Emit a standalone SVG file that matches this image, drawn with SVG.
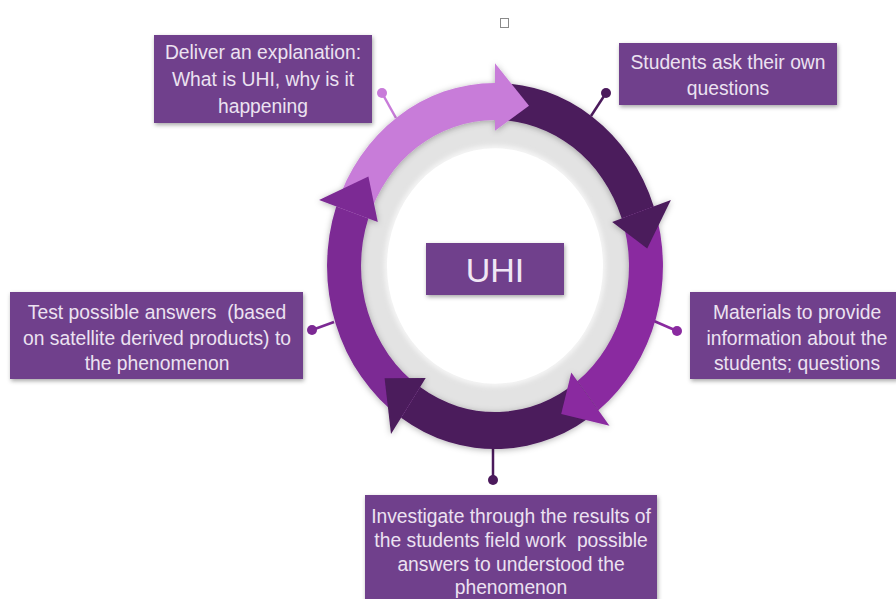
<svg xmlns="http://www.w3.org/2000/svg" width="896" height="599" viewBox="0 0 896 599">
<defs>
<style>
.box{fill:#6f3f8c;filter:url(#sh)}
.t{font-family:"Liberation Sans",Arial,sans-serif;font-size:19.3px;fill:#ece2f1;text-anchor:middle;white-space:pre}
.pin{stroke-width:2.5;fill:none}
.pink{fill:#c87bd9}
.dark{fill:#4b1a5c}
.mid{fill:#8a2aa0}
.mid2{fill:#7c2994}
</style>
<filter id="sh" x="-10%" y="-10%" width="120%" height="130%"><feDropShadow dx="1" dy="2" stdDeviation="2" flood-color="#000" flood-opacity="0.35"/></filter>
<filter id="rsh" x="-20%" y="-20%" width="140%" height="140%"><feDropShadow dx="0" dy="1" stdDeviation="3" flood-color="#000" flood-opacity="0.3"/></filter>
<filter id="isf" x="-20%" y="-20%" width="140%" height="140%"><feGaussianBlur stdDeviation="2"/></filter>
</defs>
<rect width="896" height="599" fill="#fff"/>
<rect x="500.5" y="18.5" width="8" height="9" fill="none" stroke="#8a8a8a" stroke-width="1"/>

<g id="connectors" class="pin">
<line x1="382" y1="93" x2="396" y2="118" stroke="#c87bd9"/>
<circle cx="382" cy="93" r="5" fill="#c87bd9"/>
<line x1="606" y1="93" x2="591" y2="116" stroke="#4b1a5c"/>
<circle cx="606" cy="93" r="5" fill="#4b1a5c"/>
<line x1="312" y1="330" x2="334" y2="322" stroke="#7c2994"/>
<circle cx="312" cy="330" r="5" fill="#7c2994"/>
<line x1="677" y1="331" x2="654" y2="321" stroke="#8a2aa0"/>
<circle cx="677" cy="331" r="5" fill="#8a2aa0"/>
<line x1="493" y1="445" x2="493" y2="480" stroke="#4b1a5c"/>
<circle cx="493" cy="480" r="5" fill="#4b1a5c"/>
</g>

<g id="cycle" transform="translate(495,266) scale(1,1.09)">
<circle r="136" fill="#e3e3e3"/>
<circle r="111" fill="#f4f4f4" filter="url(#isf)"/>
<circle r="108" fill="#fff"/>
<g filter="url(#rsh)">
<path class="pink" d="M -158.8,-54.7 A 168 168 0 0 1 0,-168 L 0,-134 A 134 134 0 0 0 -126.7,-43.6 Z"/>
<path class="dark" d="M 0,-168 A 168 168 0 0 1 158.8,-54.7 L 126.7,-43.6 A 134 134 0 0 0 0,-134 Z"/>
<path class="mid" d="M 158.8,-54.7 A 168 168 0 0 1 103.4,132.4 L 82.5,105.6 A 134 134 0 0 0 126.7,-43.6 Z"/>
<path class="dark" d="M 103.4,132.4 A 168 168 0 0 1 -93.9,139.3 L -74.9,111.1 A 134 134 0 0 0 82.5,105.6 Z"/>
<path class="mid2" d="M -93.9,139.3 A 168 168 0 0 1 -158.8,-54.7 L -126.7,-43.6 A 134 134 0 0 0 -74.9,111.1 Z"/>
<polygon class="pink" points="0,-124 0,-186 34.0,-147.1"/>
<polygon class="dark" points="117.2,-40.4 175.9,-60.6 152.2,-16.0"/>
<polygon class="mid" points="76.3,97.7 114.5,146.6 66.2,135.7"/>
<polygon class="dark" points="-69.3,102.8 -104.0,154.2 -110.4,103.0"/>
<polygon class="mid2" points="-117.2,-40.4 -175.9,-60.6 -126.6,-82.2"/>
</g>
</g>

<g id="center">
<rect class="box" x="426" y="243" width="138" height="52"/>
<text x="495" y="282" style="font-family:'Liberation Sans',Arial,sans-serif;font-size:34px;fill:#f0e7f5;text-anchor:middle">UHI</text>
</g>

<g id="n-explain">
<rect class="box" x="154" y="35" width="218" height="88"/>
<text class="t"><tspan x="263" y="59">Deliver an explanation:</tspan><tspan x="263" y="86">What is UHI, why is it</tspan><tspan x="263" y="113">happening</tspan></text>
</g>

<g id="n-ask">
<rect class="box" x="619" y="43" width="218" height="62"/>
<text class="t"><tspan x="728" y="69">Students ask their own</tspan><tspan x="728" y="95">questions</tspan></text>
</g>

<g id="n-test">
<rect class="box" x="10" y="292" width="293" height="87"/>
<text class="t"><tspan x="157" y="319">Test possible answers  (based</tspan><tspan x="157" y="345">on satellite derived products) to</tspan><tspan x="157" y="370">the phenomenon</tspan></text>
</g>

<g id="n-materials">
<rect class="box" x="690" y="292" width="208" height="87"/>
<text class="t"><tspan x="797" y="319">Materials to provide</tspan><tspan x="797" y="345">information about the</tspan><tspan x="797" y="370">students; questions</tspan></text>
</g>

<g id="n-investigate">
<rect class="box" x="365" y="495" width="292" height="110"/>
<text class="t"><tspan x="511" y="523">Investigate through the results of</tspan><tspan x="511" y="547">the students field work  possible</tspan><tspan x="511" y="571">answers to understood the</tspan><tspan x="511" y="594">phenomenon</tspan></text>
</g>
</svg>
